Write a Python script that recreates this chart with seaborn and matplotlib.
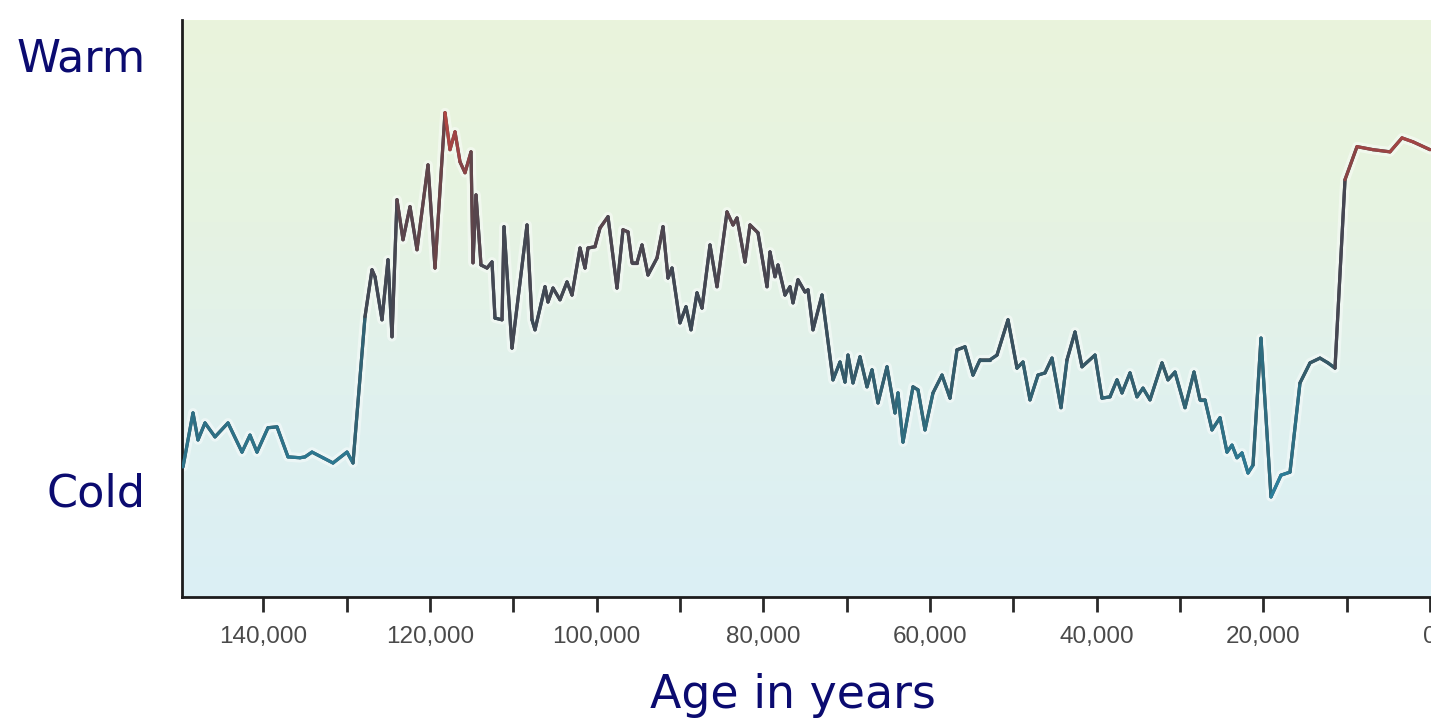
import numpy as np
import pandas as pd
import matplotlib
matplotlib.use("Agg")
import matplotlib.pyplot as plt
from matplotlib.collections import LineCollection
from matplotlib.colors import LinearSegmentedColormap, Normalize
import seaborn as sns

# ---- data (age in thousands of years, relative temperature index: Cold=0, Warm=10)
age_k = [149.64, 148.44, 147.84, 147.0, 145.8, 144.24, 142.56, 141.6, 140.76, 139.44,
         138.36, 137.04, 135.6, 135.0, 134.16, 132.84, 131.64, 129.96, 129.24, 127.8,
         126.96, 126.6, 125.76, 125.04, 124.56, 123.96, 123.24, 122.4, 121.56, 120.24,
         119.4, 118.2, 117.6, 117.0, 116.4, 115.8, 115.08, 114.84, 114.48, 113.88,
         113.16, 112.56, 112.2, 111.36, 111.12, 110.16, 108.36, 107.76, 107.4, 106.2,
         105.84, 105.24, 104.4, 103.56, 102.96, 102.0, 101.4, 101.04, 100.2, 99.6,
         98.64, 97.56, 96.84, 96.24, 95.76, 95.16, 94.56, 93.84, 92.76, 92.04,
         91.44, 90.96, 90.0, 89.28, 88.68, 87.96, 87.36, 86.4, 85.56, 84.36,
         83.64, 83.16, 82.2, 81.6, 80.64, 79.56, 79.2, 78.6, 78.24, 77.4,
         76.8, 76.44, 75.84, 75.0, 74.64, 74.04, 72.96, 71.64, 70.8, 70.2,
         69.84, 69.24, 68.4, 67.56, 66.96, 66.24, 65.16, 64.2, 63.84, 63.24,
         62.04, 61.44, 60.6, 59.64, 58.56, 57.6, 56.76, 55.8, 54.84, 54.0,
         52.8, 51.96, 50.64, 49.56, 48.84, 48.0, 47.04, 46.2, 45.36, 44.28,
         43.56, 42.6, 41.76, 40.2, 39.36, 38.4, 37.56, 36.96, 36.0, 35.16,
         34.44, 33.6, 32.16, 31.44, 30.6, 29.4, 28.32, 27.6, 27.0, 26.16,
         25.2, 24.36, 23.76, 23.16, 22.56, 21.84, 21.24, 20.28, 19.08, 17.88,
         16.8, 15.6, 14.4, 13.2, 12.24, 11.4, 10.2, 8.76, 6.84, 4.8,
         3.36, 2.04, 0.0]
temperature = [0.53, 1.77, 1.15, 1.54, 1.22, 1.54, 0.87, 1.26, 0.87, 1.43,
               1.45, 0.76, 0.74, 0.76, 0.87, 0.74, 0.62, 0.87, 0.62, 3.98,
               5.06, 4.90, 3.91, 5.29, 3.52, 6.67, 5.75, 6.51, 5.52, 7.47,
               5.10, 8.67, 7.82, 8.23, 7.54, 7.29, 7.77, 5.22, 6.78, 5.17,
               5.10, 5.24, 3.95, 3.91, 6.05, 3.26, 6.09, 3.91, 3.68, 4.67,
               4.32, 4.64, 4.37, 4.78, 4.48, 5.56, 5.10, 5.56, 5.59, 6.02,
               6.28, 4.64, 5.98, 5.93, 5.22, 5.22, 5.63, 4.94, 5.33, 6.05,
               4.87, 5.10, 3.84, 4.21, 3.68, 4.53, 4.18, 5.63, 4.67, 6.39,
               6.09, 6.25, 5.24, 6.09, 5.91, 4.67, 5.47, 4.90, 5.17, 4.48,
               4.67, 4.30, 4.83, 4.55, 4.60, 3.68, 4.48, 2.53, 2.94, 2.48,
               3.10, 2.46, 3.06, 2.37, 2.76, 2.00, 2.83, 1.77, 2.23, 1.10,
               2.37, 2.30, 1.38, 2.23, 2.64, 2.11, 3.22, 3.29, 2.64, 2.99,
               2.99, 3.10, 3.91, 2.80, 2.94, 2.07, 2.64, 2.69, 3.03, 1.89,
               2.99, 3.63, 2.83, 3.10, 2.11, 2.14, 2.53, 2.23, 2.69, 2.14,
               2.34, 2.07, 2.92, 2.53, 2.71, 1.89, 2.71, 2.07, 2.07, 1.38,
               1.66, 0.87, 1.03, 0.74, 0.85, 0.39, 0.57, 3.49, -0.16, 0.34,
               0.41, 2.46, 2.92, 3.03, 2.92, 2.80, 7.13, 7.89, 7.82, 7.77,
               8.09, 8.00, 7.82]

x_tick_major = [140000, 120000, 100000, 80000, 60000, 40000, 20000, 0]
x_tick_labels = ["140,000", "120,000", "100,000", "80,000", "60,000", "40,000", "20,000", "0"]
x_tick_minor = [130000, 110000, 90000, 70000, 50000, 30000, 10000]
y_tick_pos = [0, 10]
y_tick_labels = ["Cold", "Warm"]
x_label = "Age in years"

df = pd.DataFrame({"age": np.array(age_k) * 1000.0, "temp": temperature})

# ---- figure
sns.set_theme(style="white")
plt.rcParams["font.family"] = ["DejaVu Sans"]

W, H = 1431, 721
fig = plt.figure(figsize=(W / 100, H / 100), dpi=100)
fig.patch.set_facecolor("white")
ax = fig.add_axes([182 / W, 1 - 597 / H, (W - 182) / W, (597 - 20) / H])

xlim = (149760, -120)
ylim = (-2.46, 10.8)

# background gradient (green top -> pale blue bottom)
bg_cmap = LinearSegmentedColormap.from_list(
    "bg", [(0.0, "#dbeff5"), (0.35, "#e0f1ee"), (0.65, "#e6f3e2"), (1.0, "#eaf4dc")])
grad = np.linspace(0, 1, 256).reshape(-1, 1)
ax.imshow(grad, aspect="auto", cmap=bg_cmap, origin="lower",
          extent=[xlim[0], xlim[1], ylim[0], ylim[1]], zorder=0)

# halo + base line through seaborn
sns.lineplot(data=df, x="age", y="temp", ax=ax, color="white", lw=7, alpha=0.45,
             sort=False, zorder=2)
sns.lineplot(data=df, x="age", y="temp", ax=ax, color="#3e4650", lw=2.3,
             sort=False, zorder=3)

# colour the line by temperature
line_cmap = LinearSegmentedColormap.from_list(
    "temp", [(0.0, "#2a86a6"), (0.25, "#2e6a7c"), (0.45, "#3b4a56"),
             (0.62, "#4a4650"), (0.78, "#6a4448"), (0.88, "#9c4444"), (1.0, "#d44c42")])
pts = np.column_stack([df["age"].values, df["temp"].values]).reshape(-1, 1, 2)
segs = np.concatenate([pts[:-1], pts[1:]], axis=1)
mid = (df["temp"].values[:-1] + df["temp"].values[1:]) / 2
lc = LineCollection(segs, cmap=line_cmap, norm=Normalize(-0.5, 9.0), lw=2.3,
                    capstyle="round", joinstyle="round", zorder=4)
lc.set_array(mid)
ax.add_collection(lc)

ax.set_xlim(*xlim)
ax.set_ylim(*ylim)

# spines
for s in ["top", "right"]:
    ax.spines[s].set_visible(False)
for s in ["left", "bottom"]:
    ax.spines[s].set_color("#1c1c1c")
    ax.spines[s].set_linewidth(2.0)

# x ticks
ax.set_xticks(x_tick_major)
ax.set_xticklabels(x_tick_labels, fontsize=17.5, color="#4a4a4a",
                   family=["Liberation Sans", "DejaVu Sans"])
ax.set_xticks(x_tick_minor, minor=True)
ax.tick_params(axis="x", which="both", direction="out", length=11, width=2.0,
               color="#2a2a2a", bottom=True, pad=10)

# y ticks as Warm / Cold
ax.set_yticks(y_tick_pos)
ax.set_yticklabels(y_tick_labels, fontsize=32, color="#0b0b70")
ax.tick_params(axis="y", length=0, pad=26)

ax.set_xlabel("")
ax.set_ylabel("")
fig.text(793 / W, 1 - 695 / H, x_label, ha="center", va="center",
         fontsize=33, color="#0b0b70")

ax.grid(False)
fig.savefig("out.png", dpi=100, facecolor="white")
